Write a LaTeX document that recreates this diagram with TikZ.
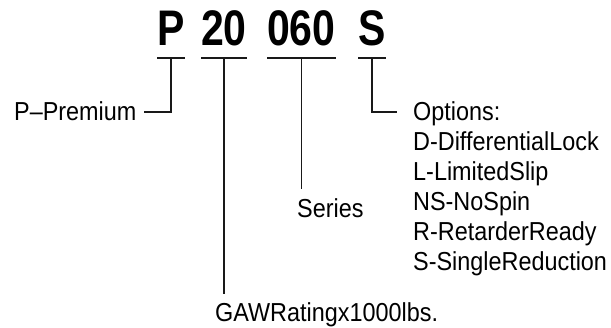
\documentclass[tikz,border=0pt]{standalone}
\usepackage{fontspec}
\setmainfont{Liberation Sans}[FakeStretch=0.9]
\newfontfamily\ttlfont{Liberation Sans}[FakeStretch=0.82]
\begin{document}
\begin{tikzpicture}[x=1pt,y=-1pt,
  lbl/.style={anchor=base west,inner sep=0pt,font=\fontsize{26}{30}\selectfont},
  ttl/.style={anchor=base west,inner sep=0pt,font=\ttlfont\fontsize{50}{52}\selectfont\bfseries},
  ln/.style={line width=1.8pt,draw=black!90}]
\useasboundingbox (0,0) rectangle (611,328);
% title
\node[ttl] (tP)   at (157,46) {P};
\node[ttl] (t20)  at (201,46) {20};
\node[ttl] (t060) at (267,46) {060};
\node[ttl] (tS)   at (358,46) {S};
% labels
\node[lbl] (prem) at (14,121) {P–Premium};
\node[lbl] (o0) at (413,121) {Options:};
\node[lbl] (o1) at (413,151) {D-DifferentialLock};
\node[lbl] (o2) at (413,181) {L-LimitedSlip};
\node[lbl] (o3) at (413,211) {NS-NoSpin};
\node[lbl] (o4) at (413,241) {R-RetarderReady};
\node[lbl] (o5) at (413,271) {S-SingleReduction};
\node[lbl] (ser) at (297,218) {Series};
\node[lbl] (gaw) at (215,322) {GAWRatingx1000lbs.};
% bars
\foreach \n in {tP,t20,t060,tS}{
  \coordinate (\n l) at ([yshift=-12pt]\n.base west);
  \coordinate (\n r) at ([yshift=-12pt]\n.base east);
  \coordinate (\n m) at ([yshift=-12pt]\n.base);
  \draw[ln] (\n l) -- (\n r);
}
% connectors
\coordinate (pe) at ([shift={(7pt,9pt)}]prem.base east);
\coordinate (oe) at ([shift={(-16pt,9pt)}]o0.base west);
\draw[ln] (tPm) |- (pe);
\draw[ln] (tSm) |- (oe);
\draw[ln,shorten >=9pt] (t20m) -- (t20m |- gaw.north);
\draw[ln,shorten >=10pt] (t060m) -- (t060m |- ser.north);
\end{tikzpicture}
\end{document}
